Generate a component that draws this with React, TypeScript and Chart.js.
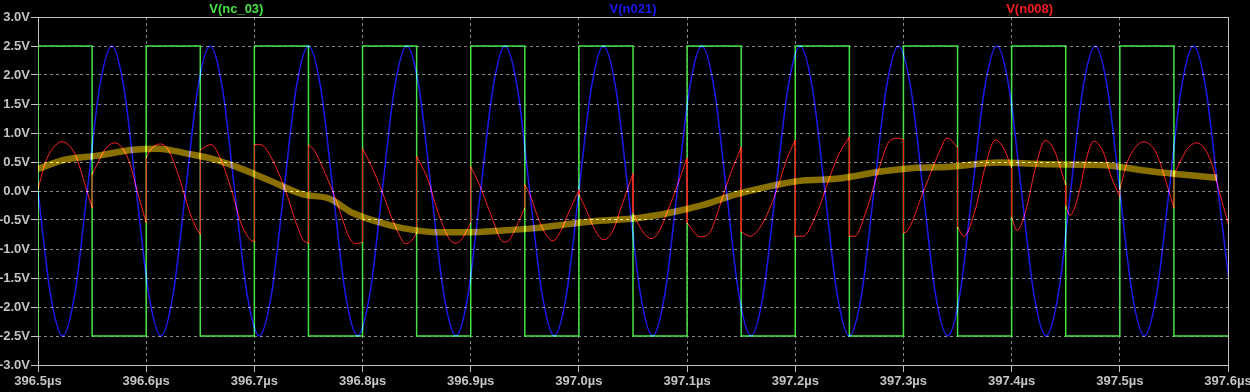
import React, { useEffect, useRef } from 'react';
import { Chart, registerables } from 'chart.js';

Chart.register(...registerables);

// ---------- labels ----------
const seriesNames = ['V(nc_03)', 'V(n021)', 'V(n008)'];
const xTickValues = [396.5, 396.6, 396.7, 396.8, 396.9, 397.0, 397.1, 397.2, 397.3, 397.4, 397.5, 397.6];
const xTickLabels = ['396.5µs', '396.6µs', '396.7µs', '396.8µs', '396.9µs', '397.0µs', '397.1µs', '397.2µs', '397.3µs', '397.4µs', '397.5µs', '397.6µs'];
const yTickValues = [-3, -2.5, -2, -1.5, -1, -0.5, 0, 0.5, 1, 1.5, 2, 2.5, 3];
const yTickLabels = ['-3.0V', '-2.5V', '-2.0V', '-1.5V', '-1.0V', '-0.5V', '0.0V', '0.5V', '1.0V', '1.5V', '2.0V', '2.5V', '3.0V'];

// ---------- V(nc_03): square wave (value holds until next time) ----------
const squareTimes = [396.5, 396.5, 396.55, 396.6, 396.65, 396.7, 396.75, 396.8, 396.85, 396.9, 396.95, 397.0, 397.05, 397.1, 397.15, 397.2, 397.25, 397.3, 397.35, 397.4, 397.45, 397.5, 397.55, 397.6];
const squareVolts = [-2.5, 2.5, -2.5, 2.5, -2.5, 2.5, -2.5, 2.5, -2.5, 2.5, -2.5, 2.5, -2.5, 2.5, -2.5, 2.5, -2.5, 2.5, -2.5, 2.5, -2.5, 2.5, -2.5, -2.5];

// ---------- V(n021): sine, read at zero crossings, ±45° and peaks ----------
const sineTimes = [
  396.5000, 396.5114, 396.5227, 396.5341, 396.5455, 396.5568, 396.5682, 396.5795,
  396.5909, 396.6023, 396.6136, 396.6250, 396.6364, 396.6477, 396.6591, 396.6705,
  396.6818, 396.6932, 396.7045, 396.7159, 396.7273, 396.7386, 396.7500, 396.7614,
  396.7727, 396.7841, 396.7955, 396.8068, 396.8182, 396.8295, 396.8409, 396.8523,
  396.8636, 396.8750, 396.8864, 396.8977, 396.9091, 396.9205, 396.9318, 396.9432,
  396.9545, 396.9659, 396.9773, 396.9886, 397.0000, 397.0114, 397.0227, 397.0341,
  397.0455, 397.0568, 397.0682, 397.0795, 397.0909, 397.1023, 397.1136, 397.1250,
  397.1364, 397.1477, 397.1591, 397.1705, 397.1818, 397.1932, 397.2045, 397.2159,
  397.2273, 397.2386, 397.2500, 397.2614, 397.2727, 397.2841, 397.2955, 397.3068,
  397.3182, 397.3295, 397.3409, 397.3523, 397.3636, 397.3750, 397.3864, 397.3977,
  397.4091, 397.4205, 397.4318, 397.4432, 397.4545, 397.4659, 397.4773, 397.4886,
  397.5000, 397.5114, 397.5227, 397.5341, 397.5455, 397.5568, 397.5682, 397.5795,
  397.5909, 397.6023,
];
const sineVolts = [
  0, -1.77, -2.5, -1.77, 0, 1.77, 2.5, 1.77,
  0, -1.77, -2.5, -1.77, 0, 1.77, 2.5, 1.77,
  0, -1.77, -2.5, -1.77, 0, 1.77, 2.5, 1.77,
  0, -1.77, -2.5, -1.77, 0, 1.77, 2.5, 1.77,
  0, -1.77, -2.5, -1.77, 0, 1.77, 2.5, 1.77,
  0, -1.77, -2.5, -1.77, 0, 1.77, 2.5, 1.77,
  0, -1.77, -2.5, -1.77, 0, 1.77, 2.5, 1.77,
  0, -1.77, -2.5, -1.77, 0, 1.77, 2.5, 1.77,
  0, -1.77, -2.5, -1.77, 0, 1.77, 2.5, 1.77,
  0, -1.77, -2.5, -1.77, 0, 1.77, 2.5, 1.77,
  0, -1.77, -2.5, -1.77, 0, 1.77, 2.5, 1.77,
  0, -1.77, -2.5, -1.77, 0, 1.77, 2.5, 1.77,
  0, -1.77,
];

// ---------- V(n008): mixer output, jumps where a time repeats ----------
const mixerTimes = [
  396.500, 396.507, 396.514, 396.522, 396.530, 396.535, 396.544, 396.550,
  396.550, 396.557, 396.563, 396.571, 396.578, 396.585, 396.591, 396.597, 396.600,
  396.600, 396.604, 396.613, 396.621, 396.631, 396.640, 396.646, 396.650,
  396.650, 396.660, 396.671, 396.681, 396.687, 396.693, 396.697, 396.700,
  396.700, 396.706, 396.714, 396.729, 396.738, 396.745, 396.750,
  396.750, 396.755, 396.766, 396.776, 396.788, 396.794, 396.800,
  396.800, 396.809, 396.818, 396.831, 396.840, 396.846, 396.850,
  396.850, 396.861, 396.868, 396.874, 396.880, 396.886, 396.892, 396.900,
  396.900, 396.908, 396.914, 396.922, 396.926, 396.931, 396.936, 396.940, 396.950,
  396.950, 396.956, 396.960, 396.968, 396.976, 396.983, 396.991, 397.000,
  397.000, 397.006, 397.014, 397.023, 397.031, 397.040, 397.050,
  397.050, 397.059, 397.067, 397.074, 397.084, 397.093, 397.100,
  397.100, 397.112, 397.121, 397.127, 397.132, 397.141, 397.150,
  397.150, 397.158, 397.170, 397.183, 397.192, 397.200,
  397.200, 397.207, 397.220, 397.232, 397.241, 397.250,
  397.250, 397.255, 397.266, 397.278, 397.287, 397.295, 397.300,
  397.300, 397.303, 397.318, 397.334, 397.340, 397.343, 397.350,
  397.350, 397.356, 397.366, 397.376, 397.385, 397.393, 397.400,
  397.400, 397.405, 397.413, 397.422, 397.431, 397.439, 397.450,
  397.450, 397.454, 397.462, 397.469, 397.476, 397.484, 397.493, 397.500,
  397.500, 397.507, 397.514, 397.522, 397.530, 397.535, 397.544, 397.550,
  397.550, 397.557, 397.563, 397.571, 397.578, 397.585, 397.591, 397.597, 397.600,
];
const mixerVolts = [
  0.03, 0.50, 0.74, 0.85, 0.76, 0.60, 0.08, -0.29,
  0.28, 0.55, 0.74, 0.83, 0.74, 0.47, 0.05, -0.35, -0.55,
  0.57, 0.71, 0.81, 0.69, 0.20, -0.35, -0.63, -0.75,
  0.71, 0.80, 0.45, -0.12, -0.52, -0.76, -0.85, -0.87,
  0.80, 0.80, 0.63, 0.00, -0.52, -0.84, -0.90,
  0.79, 0.71, 0.28, -0.18, -0.81, -0.91, -0.88,
  0.73, 0.40, -0.01, -0.64, -0.91, -0.84, -0.72,
  0.60, 0.17, -0.27, -0.58, -0.82, -0.90, -0.82, -0.55,
  0.42, 0.11, -0.18, -0.58, -0.78, -0.88, -0.84, -0.70, -0.29,
  0.11, -0.12, -0.35, -0.70, -0.86, -0.70, -0.35, 0.02,
  -0.06, -0.29, -0.64, -0.84, -0.70, -0.23, 0.30,
  -0.38, -0.70, -0.82, -0.70, -0.25, 0.20, 0.57,
  -0.55, -0.79, -0.72, -0.44, -0.15, 0.34, 0.75,
  -0.70, -0.78, -0.55, 0.02, 0.54, 0.88,
  -0.78, -0.78, -0.38, 0.25, 0.66, 0.93,
  -0.78, -0.78, -0.32, 0.42, 0.86, 0.91, 0.89,
  -0.72, -0.70, -0.03, 0.71, 0.91, 0.89, 0.75,
  -0.62, -0.78, -0.35, 0.45, 0.88, 0.72, 0.40,
  -0.45, -0.68, -0.35, 0.40, 0.87, 0.72, 0.10,
  -0.25, -0.42, -0.05, 0.55, 0.86, 0.70, 0.20, -0.10,
  0.03, 0.50, 0.74, 0.85, 0.76, 0.60, 0.08, -0.29,
  0.28, 0.55, 0.74, 0.83, 0.74, 0.47, 0.05, -0.35, -0.55,
];

// ---------- thick slow trace (filtered output) ----------
const filterTimes = [396.500, 396.523, 396.555, 396.588, 396.611, 396.639, 396.662, 396.683, 396.713, 396.745, 396.769, 396.791, 396.812, 396.837, 396.868, 396.898, 396.930, 396.960, 396.991, 397.022, 397.053, 397.083, 397.115, 397.145, 397.176, 397.207, 397.238, 397.281, 397.312, 397.343, 397.389, 397.435, 397.482, 397.528, 397.565, 397.590];
const filterVolts = [0.38, 0.53, 0.61, 0.71, 0.73, 0.64, 0.55, 0.42, 0.19, -0.06, -0.13, -0.38, -0.52, -0.64, -0.71, -0.71, -0.68, -0.64, -0.57, -0.51, -0.47, -0.38, -0.24, -0.06, 0.08, 0.18, 0.21, 0.34, 0.40, 0.42, 0.49, 0.46, 0.45, 0.34, 0.27, 0.23];

const FONT = '"Liberation Sans", Arial, Helvetica, sans-serif';
const GREEN = 'rgb(70,226,70)';
const BLUE = 'rgb(26,26,236)';
const RED = 'rgb(240,30,30)';
const OLIVE = 'rgb(138,112,0)';
const TITLE_COLORS = [GREEN, BLUE, RED];
const LABEL_COLOR = '#c4c4c4';

export default function App() {
  const ref = useRef<HTMLCanvasElement>(null);

  useEffect(() => {
    const canvas = ref.current;
    if (!canvas) return;

    const pts = (ts: number[], vs: number[]) => ts.map((t, i) => ({ x: t, y: vs[i] }));

    const mixerMain: { x: number; y: number | null }[] = [];
    const mixerJumps: { x: number; y: number | null }[] = [];
    for (let i = 0; i < mixerTimes.length; i++) {
      if (i > 0 && mixerTimes[i] === mixerTimes[i - 1]) {
        mixerMain.push({ x: mixerTimes[i], y: null });
        mixerJumps.push(
          { x: mixerTimes[i], y: mixerVolts[i - 1] },
          { x: mixerTimes[i], y: mixerVolts[i] },
          { x: mixerTimes[i], y: null },
        );
      }
      mixerMain.push({ x: mixerTimes[i], y: mixerVolts[i] });
    }

    // datasets drawn with ordinary painting (others are blended additively)
    const opaqueIndexes = [2, 4];

    const backgroundPlugin = {
      id: 'bg',
      beforeDraw(chart: any) {
        const ctx = chart.ctx;
        ctx.save();
        ctx.fillStyle = '#000';
        ctx.fillRect(0, 0, chart.width, chart.height);
        ctx.restore();
      },
    };

    const framePlugin = {
      id: 'frameAndTitles',
      beforeDatasetsDraw(chart: any) {
        const { ctx, chartArea: a } = chart;
        ctx.save();
        ctx.strokeStyle = '#c4c4c4';
        ctx.lineWidth = 1;
        ctx.setLineDash([]);
        ctx.strokeRect(a.left + 0.5, a.top + 0.5, a.right - a.left, a.bottom - a.top);
        ctx.restore();
      },
      beforeDatasetDraw(chart: any, args: any) {
        chart.ctx.save();
        chart.ctx.globalCompositeOperation = opaqueIndexes.includes(args.index) ? 'source-over' : 'lighter';
      },
      afterDatasetDraw(chart: any) {
        chart.ctx.restore();
      },
      afterDraw(chart: any) {
        const { ctx, chartArea: a } = chart;
        ctx.save();
        ctx.font = `bold 13px ${FONT}`;
        ctx.textAlign = 'center';
        ctx.textBaseline = 'alphabetic';
        const w = (a.right - a.left) / seriesNames.length;
        seriesNames.forEach((name, i) => {
          ctx.fillStyle = TITLE_COLORS[i];
          ctx.fillText(name, a.left + w * (i + 0.5), 12.5);
        });
        ctx.restore();
      },
    };

    const tickFont = { family: FONT, size: 13, weight: 'bold' as const };

    const chart = new Chart(canvas, {
      type: 'line',
      data: {
        datasets: [
          {
            label: 'filter',
            data: pts(filterTimes, filterVolts),
            borderColor: OLIVE,
            borderWidth: 6.5,
            cubicInterpolationMode: 'monotone',
            pointRadius: 0,
            borderCapStyle: 'butt',
          },
          {
            label: seriesNames[2],
            data: mixerMain as any,
            borderColor: RED,
            borderWidth: 1,
            cubicInterpolationMode: 'monotone',
            pointRadius: 0,
            spanGaps: false,
          },
          {
            label: seriesNames[2] + ' jumps',
            data: mixerJumps as any,
            borderColor: RED,
            borderWidth: 1,
            tension: 0,
            pointRadius: 0,
            spanGaps: false,
          },
          {
            label: seriesNames[1],
            data: pts(sineTimes, sineVolts),
            borderColor: BLUE,
            borderWidth: 1.5,
            cubicInterpolationMode: 'monotone',
            pointRadius: 0,
          },
          {
            label: seriesNames[0],
            data: pts(squareTimes, squareVolts),
            borderColor: GREEN,
            borderWidth: 1.5,
            stepped: true,
            pointRadius: 0,
          },
        ],
      },
      options: {
        responsive: false,
        animation: false,
        devicePixelRatio: 1,
        events: [],
        layout: { padding: { left: 0, right: 22, top: 17, bottom: 0 } },
        plugins: {
          legend: { display: false },
          tooltip: { enabled: false },
          title: { display: false },
        },
        scales: {
          x: {
            type: 'linear',
            min: 396.5,
            max: 397.6,
            afterBuildTicks: (s: any) => {
              s.ticks = xTickValues.map((v) => ({ value: v }));
            },
            afterFit: (s: any) => {
              s.height = 27;
              s.paddingLeft = 0;
              s.paddingRight = 0;
            },
            ticks: {
              autoSkip: false,
              maxRotation: 0,
              minRotation: 0,
              padding: 2,
              color: LABEL_COLOR,
              font: tickFont,
              callback: (_v: any, i: number) => xTickLabels[i],
            },
            grid: {
              color: '#8a8a8a',
              lineWidth: 1,
              drawTicks: true,
              tickLength: 7,
              tickColor: LABEL_COLOR,
            },
            border: { display: false, dash: [3, 3] },
          },
          y: {
            type: 'linear',
            min: -3,
            max: 3,
            afterBuildTicks: (s: any) => {
              s.ticks = yTickValues.map((v) => ({ value: v }));
            },
            afterFit: (s: any) => {
              s.width = 38;
              s.paddingTop = 0;
              s.paddingBottom = 0;
            },
            ticks: {
              autoSkip: false,
              padding: 1,
              color: LABEL_COLOR,
              font: tickFont,
              callback: (_v: any, i: number) => yTickLabels[i],
            },
            grid: {
              color: '#8a8a8a',
              lineWidth: 1,
              drawTicks: true,
              tickLength: 7,
              tickColor: LABEL_COLOR,
            },
            border: { display: false, dash: [3, 3] },
          },
        },
      },
      plugins: [backgroundPlugin, framePlugin],
    } as any);

    return () => {
      chart.destroy();
    };
  }, []);

  return (
    <div style={{ position: 'absolute', left: 0, top: 0, width: 1250, height: 392, background: '#000' }}>
      <canvas ref={ref} width={1250} height={392} style={{ display: 'block', width: 1250, height: 392 }} />
    </div>
  );
}
